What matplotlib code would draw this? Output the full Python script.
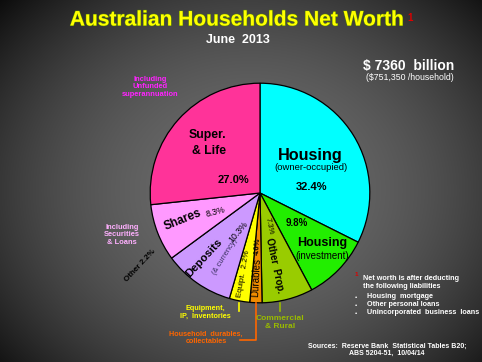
import numpy as np
import matplotlib
matplotlib.use("Agg")
import matplotlib.pyplot as plt
import matplotlib.patheffects as pe

# ---------------- data ----------------
categories = ["Housing (owner-occupied)", "Housing (investment)", "Other Prop.",
              "Durables", "Equipt.", "Deposits", "Shares", "Super. & Life"]
# wedge sizes as drawn in the picture (percent of the circle)
wedge_share = [32.4, 9.8, 7.5, 1.8, 3.0, 10.4, 8.4, 26.7]
# printed percentage labels
pct_labels = ["32.4%", "9.8%", "7.3%", "4.0%", "2.2%", "10.3%", "8.3%", "27.0%"]
other_label = "Other 2.2%"
colors = ["#00FFFF", "#22EE00", "#99CC00", "#F08C00", "#FFFF00", "#CC99FF", "#FF99FF", "#FF3399"]

W, H = 482, 362
fig = plt.figure(figsize=(W / 100, H / 100), dpi=100)
plt.rcParams["font.family"] = ["Liberation Sans", "DejaVu Sans"]


def P(x, y):
    return x / W, 1 - y / H


# ---------------- background gradient ----------------
bg = fig.add_axes([0, 0, 1, 1])
yy, xx = np.mgrid[0:H, 0:W]
d = np.sqrt(((xx - 250) / 300.0) ** 2 + ((yy - 190) / 250.0) ** 2)
v = np.clip(0.42 * (1 - (d / 1.2) ** 2), 0.04, 1)
bg.imshow(np.dstack([v, v, v]), extent=[0, W, H, 0], aspect="auto")
bg.set_axis_off()

# ---------------- pie ----------------
cx, cy, r = 260, 193, 112
ax = fig.add_axes([(cx - r) / W, (H - cy - r) / H, 2 * r / W, 2 * r / H])
ax.pie(wedge_share, colors=colors, startangle=90, counterclock=False,
       wedgeprops=dict(edgecolor="black", linewidth=0.9), radius=1)
ax.set_xlim(-1.02, 1.02)
ax.set_ylim(-1.02, 1.02)
ax.set_axis_off()


def T(x, y, s, **kw):
    kw.setdefault("ha", "center")
    kw.setdefault("va", "center")
    fig.text(*P(x, y), s, **kw)


# ---------------- titles ----------------
T(237, 20, "Australian Households Net Worth", fontsize=15.1, fontweight="bold",
  color="#FFFF00", path_effects=[pe.withStroke(linewidth=0.7, foreground="#5a8a00")])
T(410, 18, "1", fontsize=7, fontweight="bold", color="#DD0000")
T(238, 40, "June  2013", fontsize=9, fontweight="bold", color="white")
T(409, 66, "$ 7360  billion", fontsize=10, fontweight="bold", color="white")
T(410, 78, "($751,350 /household)", fontsize=6.3, color="white")

# ---------------- labels inside pie ----------------
T(310, 155, "Housing", fontsize=11.7, fontweight="bold", color="black")
T(311, 167, "(owner-occupied)", fontsize=6.8, color="black")
T(312, 187, pct_labels[0], fontsize=8, fontweight="bold", color="black")

T(297, 223, pct_labels[1], fontsize=7, fontweight="bold", color="black")
T(322, 243, "Housing", fontsize=9, fontweight="bold", color="black")
T(322, 256, "(investment)", fontsize=7, color="black")

T(269, 226, pct_labels[2], fontsize=5.5, color="black", rotation=-78, rotation_mode="anchor")
T(275, 265, "Other  Prop.", fontsize=7, fontweight="bold", color="black",
  rotation=-78, rotation_mode="anchor")
T(256, 277, "Durables", fontsize=7, color="black", rotation=87, rotation_mode="anchor")
T(258, 246, pct_labels[3], fontsize=5.5, fontweight="bold", color="black", rotation=87,
  rotation_mode="anchor")
T(244, 274, "Equipt.  " + pct_labels[4], fontsize=5.8, color="black", rotation=80,
  rotation_mode="anchor")

T(204, 258, "Deposits", fontsize=8.2, fontweight="bold", color="black", rotation=47,
  rotation_mode="anchor")
T(238, 232, pct_labels[5], fontsize=6.3, color="black", rotation=50, rotation_mode="anchor")
T(225, 257, "(& currency)", fontsize=5.4, color="#3a3060", rotation=58, rotation_mode="anchor")

T(183, 220, "Shares", fontsize=8.5, fontweight="bold", color="black", rotation=22,
  rotation_mode="anchor")
T(216, 212, pct_labels[6], fontsize=6.3, color="black", rotation=15, rotation_mode="anchor")

T(207, 135, "Super.", fontsize=8.8, fontweight="bold", color="black")
T(209, 151, "& Life", fontsize=8.8, fontweight="bold", color="black")
T(233, 180, pct_labels[7], fontsize=8, fontweight="bold", color="black")

# ---------------- outside labels ----------------
T(150, 87, "Including\nUnfunded\nsuperannuation", fontsize=5.4, fontweight="bold",
  color="#FF22FF", linespacing=1.05)
T(122, 235, "Including\nSecurities\n& Loans", fontsize=5.4, fontweight="bold",
  color="#FFB0FF", linespacing=1.05)
T(140, 266, other_label, fontsize=5.8, fontweight="bold", color="black", rotation=47,
  rotation_mode="anchor")

T(205, 312, "Equipment,\nIP,  Inventories", fontsize=5.2, fontweight="bold",
  color="#FFFF00", linespacing=1.15)
T(206, 338, "Household  durables,\ncollectables", fontsize=5.2, fontweight="bold",
  color="#FF6600", linespacing=1.15)
T(280, 322, "Commercial\n& Rural", fontsize=6, fontweight="bold", color="#99BB00",
  linespacing=1.2)

# leader lines
fig.add_artist(plt.Line2D([239 / W, 239 / W], [1 - 303 / H, 1 - 311 / H], color="#FFFF00", lw=1.2))
fig.add_artist(plt.Line2D([256 / W, 256 / W, 240 / W], [1 - 303 / H, 1 - 340 / H, 1 - 340 / H],
                          color="#FF6600", lw=1.2))
fig.add_artist(plt.Line2D([280 / W, 280 / W], [1 - 303 / H, 1 - 311 / H], color="#99BB00", lw=1.2))

# ---------------- notes ----------------
T(356, 274, "1", fontsize=4.5, fontweight="bold", color="#DD0000")
T(363, 278, "Net worth is after deducting", fontsize=5.2, fontweight="bold", color="white", ha="left")
T(363, 287, "the following liabilities", fontsize=5.2, fontweight="bold", color="white", ha="left")
for yb, txt in zip([297, 305, 313], ["Housing  mortgage", "Other personal loans",
                                      "Unincorporated  business  loans"]):
    T(356, yb, "\u2022", fontsize=4.5, color="white")
    T(367, yb, txt, fontsize=5.2, fontweight="bold", color="white", ha="left")

T(387, 346, "Sources:  Reserve Bank  Statistical Tables B20;", fontsize=5.0, fontweight="bold",
  color="white")
T(387, 353, "ABS 5204-51,  10/04/14", fontsize=5.0, fontweight="bold", color="white")

fig.savefig("out.png", dpi=100)
